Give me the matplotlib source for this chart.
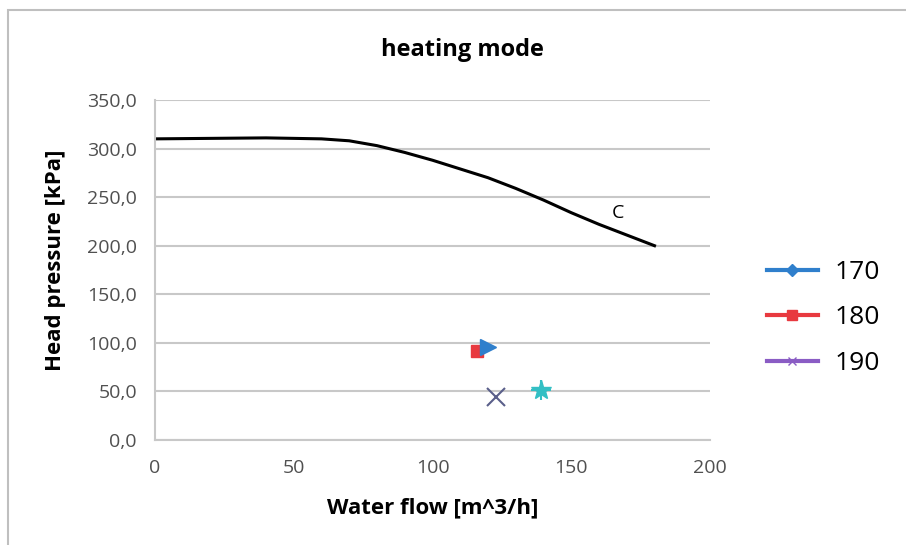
import matplotlib
matplotlib.use("Agg")
import matplotlib.pyplot as plt
from matplotlib.patches import Rectangle
from matplotlib.ticker import FuncFormatter

plt.rcParams['font.family'] = ['Open Sans', 'DejaVu Sans']

# Pump curve C
curve_x = [0, 20, 40, 60, 70, 80, 90, 100, 110, 120, 130, 140, 150, 160, 170, 180]
curve_y = [310, 310.5, 311, 310, 308, 303, 296, 288, 279, 270, 259, 247, 234, 222, 211, 200]

# Operating points
series_names = ["170", "180", "190"]
series_x = [120, 116, 123]
series_y = [96, 92, 44]
extra_x = [139]
extra_y = [51]

fig = plt.figure(figsize=(9.06, 5.45), dpi=100)
fig.patches.append(Rectangle((8/906, -0.01), 1.0, 1 - 10/545 + 0.01, transform=fig.transFigure,
                             fill=False, edgecolor="#bfbfbf", linewidth=1.5))

ax = fig.add_axes([155/906, 1-440/545, 555/906, 340/545])
ax.plot(curve_x, curve_y, color="black", linewidth=2.2)
ax.text(167, 234, "C", fontsize=14, ha="center", va="center")

l1, = ax.plot([], [], color="#2f7fcc", linewidth=3, marker="D", markersize=6, label=series_names[0])
l2, = ax.plot([], [], color="#e8393f", linewidth=3, marker="s", markersize=7, label=series_names[1])
l3, = ax.plot([], [], color="#8a5cc4", linewidth=3, marker="x", markersize=6, label=series_names[2])

ax.plot(series_x[1], series_y[1], marker="s", color="#e8393f", markersize=9, linestyle="none")
ax.plot(series_x[0], series_y[0], marker=">", color="#2f7fcc", markersize=11, linestyle="none")
ax.plot(series_x[2], series_y[2], marker="x", color="#5a5f8a", markersize=13, mew=1.5, linestyle="none")
ax.plot(extra_x, extra_y, marker="*", color="#33bfc4", markersize=15, linestyle="none")
ax.plot(extra_x, extra_y, marker="+", color="#33bfc4", markersize=15, mew=1.5, linestyle="none")

ax.set_xlim(0, 200)
ax.set_ylim(0, 350)
ax.set_xticks(range(0, 201, 50))
ax.set_yticks(range(0, 351, 50))
ax.yaxis.set_major_formatter(FuncFormatter(lambda v, p: f"{v:.1f}".replace(".", ",")))
ax.grid(axis="y", color="#c8c8c8", linewidth=1.5)
ax.set_axisbelow(True)
for s in ["top", "right"]:
    ax.spines[s].set_visible(False)
for s in ["bottom", "left"]:
    ax.spines[s].set_color("#c8c8c8")
    ax.spines[s].set_linewidth(1.5)
ax.tick_params(axis="y", length=0, labelsize=14, colors="#505050", pad=13)
ax.tick_params(axis="x", length=0, labelsize=14, colors="#505050", pad=14)

fig.text(462/906, 1 - 50/545, "heating mode", fontsize=17, fontweight="bold",
         ha="center", va="center")
ax.set_xlabel("Water flow [m^3/h]", fontsize=16, fontweight="bold")
ax.set_ylabel("Head pressure [kPa]", fontsize=16, fontweight="bold")
ax.xaxis.set_label_coords(0.5, -(508 - 440) / 340, transform=ax.transAxes)
ax.yaxis.set_label_coords(-(155 - 55) / 555, (440 - 260) / 340, transform=ax.transAxes)
ax.xaxis.label.set_va("center")
ax.yaxis.label.set_va("center")

fig.legend(handles=[l1, l2, l3], loc="center left", bbox_to_anchor=(767/906, 1 - 318/545),
           frameon=False, fontsize=19, handlelength=1.93, handletextpad=0.64,
           labelspacing=0.78, borderpad=0, borderaxespad=0)

fig.savefig("out.png", dpi=100)
